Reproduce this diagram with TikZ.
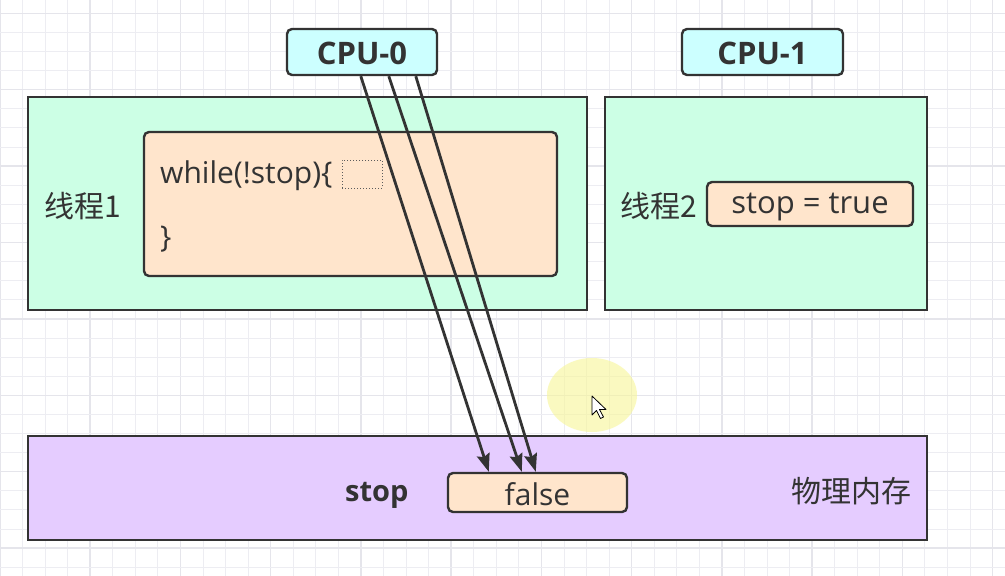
\documentclass[tikz,border=0pt]{standalone}
\usepackage{fontspec}
\setmainfont{Open Sans}
\newfontfamily\cjk{Noto Sans CJK SC}
\usetikzlibrary{arrows.meta}
\definecolor{gridc}{RGB}{237,237,242}
\definecolor{gridd}{RGB}{229,229,235}
\definecolor{edge}{RGB}{51,51,51}
\definecolor{txt}{RGB}{51,51,51}
\definecolor{cyanfill}{RGB}{204,255,255}
\definecolor{mint}{RGB}{204,255,229}
\definecolor{peach}{RGB}{255,229,204}
\definecolor{lav}{RGB}{229,204,255}
\definecolor{hl}{RGB}{248,246,150}
\tikzset{
  box/.style={draw=edge, line width=2.4pt, inner sep=0pt},
  rbox/.style={box, rounded corners=5pt},
  lbl/.style={text=txt, inner sep=0pt, font=\fontsize{30}{34}\selectfont},
  boldlbl/.style={text=txt, inner sep=0pt, font=\bfseries\fontsize{31}{35}\selectfont},
  cjklbl/.style={text=txt, inner sep=0pt, font=\cjk\fontsize{30}{34}\selectfont},
  arr/.style={draw=edge, line width=2.8pt, -{Stealth[length=18pt,width=13pt,inset=2.5pt]}}
}
\begin{document}
\begin{tikzpicture}[x=1pt,y=-1pt]
\useasboundingbox (0,0) rectangle (1005,576);
\fill[white] (0,0) rectangle (1005,576);
% grid
\foreach \k in {0,...,44} {\draw[gridc, line width=1pt] ({22.56*\k},0) -- ({22.56*\k},576);}
\foreach \k in {0,4,...,44} {\draw[gridd, line width=1.5pt] ({22.56*\k},0) -- ({22.56*\k},576);}
\foreach \k in {0,...,29} {\draw[gridc, line width=1pt] (0,{13.3+19.1*\k}) -- (1005,{13.3+19.1*\k});}
\foreach \k in {0,4,...,28} {\draw[gridd, line width=1.5pt] (0,{13.3+19.1*\k}) -- (1005,{13.3+19.1*\k});}
% highlight
\fill[hl, fill opacity=0.6] (592,395) ellipse [x radius=45pt, y radius=37pt];
% boxes
\node[box, fill=mint, minimum width=559pt, minimum height=213pt] (t1) at (307.5,203.5) {};
\node[box, fill=mint, minimum width=322pt, minimum height=213pt] (t2) at (766,203.5) {};
\node[rbox, fill=peach, minimum width=413pt, minimum height=144pt] (loop) at (350.5,204) {};
\node[rbox, fill=peach, minimum width=206pt, minimum height=44pt] (set) at (810,204) {};
\node[box, fill=lav, minimum width=899pt, minimum height=104pt] (mem) at (477.5,488) {};
\node[rbox, fill=peach, minimum width=179pt, minimum height=39pt] (false) at (537.5,492.5) {};
\node[rbox, fill=cyanfill, minimum width=150pt, minimum height=46pt] (cpu0) at (362,52) {};
\node[rbox, fill=cyanfill, minimum width=161pt, minimum height=46pt] (cpu1) at (762.5,52) {};
% texts
\node[boldlbl] (cpu0t) at (362,53) {CPU-0};
\node[boldlbl] (cpu1t) at (762.5,53) {CPU-1};
\node[cjklbl, anchor=west] (t1t) at (44,206) {线程1};
\node[cjklbl, anchor=west] (t2t) at (620,206) {线程2};
\node[lbl, anchor=west] (whilet) at (160,176) {while(!stop)\{};
\node[lbl, anchor=west] (closet) at (160,239) {\}};
\node[draw=edge!80, dotted, line width=1pt, minimum width=40pt, minimum height=28pt, inner sep=0pt] (caret) at (362,174) {};
\node[lbl, font=\fontsize{31}{35}\selectfont] (sett) at (810,207) {stop = true};
\node[lbl, font=\bfseries\fontsize{29}{33}\selectfont, anchor=west] (stopt) at (345,495) {stop};
\node[lbl] (falset) at (537.5,494.5) {false};
\node[cjklbl, anchor=east] (memt) at (912,491) {物理内存};
% arrows
\draw[arr] ([xshift=75pt]cpu0.south west) -- ([xshift=42pt]false.north west);
\draw[arr] ([xshift=103pt]cpu0.south west) -- ([xshift=75pt]false.north west);
\draw[arr] ([xshift=130pt]cpu0.south west) -- ([xshift=89pt]false.north west);
% cursor
\draw[fill=white, draw=black, line width=0.8pt, line join=round] (592,396) -- ++(0,19) -- ++(4.5,-4.5) -- ++(4,8) -- ++(3,-1.5) -- ++(-4,-7.5) -- ++(6.5,0) -- cycle;
\end{tikzpicture}
\end{document}
